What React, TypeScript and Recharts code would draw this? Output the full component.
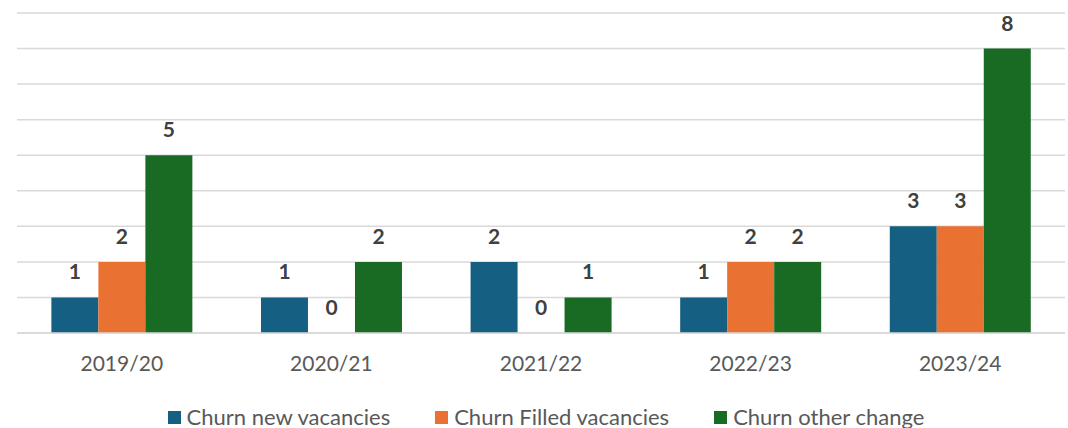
import { BarChart, Bar, XAxis, YAxis, CartesianGrid, Legend, LabelList } from "recharts";

const years = ["2019/20", "2020/21", "2021/22", "2022/23", "2023/24"];
const newVacancies = [1, 1, 2, 1, 3];
const filledVacancies = [2, 0, 0, 2, 3];
const otherChange = [5, 2, 1, 2, 8];
const yTicks = [0, 1, 2, 3, 4, 5, 6, 7, 8, 9];

const series = [
  { key: "newVac", name: "Churn new vacancies", color: "#156082" },
  { key: "filledVac", name: "Churn Filled vacancies", color: "#E97132" },
  { key: "other", name: "Churn other change", color: "#196B24" },
];

const data = years.map((year, i) => ({
  year,
  newVac: newVacancies[i],
  filledVac: filledVacancies[i],
  other: otherChange[i],
}));

const FONT = "Lato, 'Open Sans', sans-serif";

function ChartLegend() {
  return (
    <div
      style={{
        display: "flex",
        justifyContent: "center",
        alignItems: "center",
        height: 40,
        paddingLeft: 10,
        paddingTop: 18,
        boxSizing: "border-box",
        fontFamily: FONT,
        fontSize: 22,
        color: "#595959",
      }}
    >
      {series.map((s, i) => (
        <div
          key={s.key}
          style={{ display: "flex", alignItems: "center", marginLeft: i === 0 ? 0 : 45 }}
        >
          <span style={{ width: 13, height: 13, background: s.color, marginRight: 6, display: "inline-block" }} />
          <span style={{ lineHeight: "22px" }}>{s.name}</span>
        </div>
      ))}
    </div>
  );
}

export default function App() {
  return (
    <div style={{ position: "absolute", left: 0, top: 0, background: "#fff" }}>
      <BarChart
        width={1068}
        height={428}
        data={data}
        margin={{ top: 13, right: 3, left: 17, bottom: 0 }}
        barCategoryGap="16.4%"
        barGap={0}
      >
        <CartesianGrid vertical={false} stroke="#d9d9d9" strokeWidth={1.5} />
        <YAxis hide domain={[0, 9]} ticks={yTicks} />
        <XAxis
          dataKey="year"
          height={55}
          tickLine={false}
          axisLine={{ stroke: "#d9d9d9", strokeWidth: 1.5 }}
          tickSize={0}
          tickMargin={23}
          tick={{ fill: "#595959", fontSize: 21, fontFamily: FONT }}
        />
        <Legend verticalAlign="bottom" height={40} content={() => <ChartLegend />} />
        {series.map((s) => (
          <Bar
            key={s.key}
            dataKey={s.key}
            name={s.name}
            fill={s.color}
            minPointSize={0.01}
            isAnimationActive={false}
          >
            <LabelList
              dataKey={s.key}
              position="top"
              offset={18}
              fill="#404040"
              fontSize={21}
              fontWeight="bold"
              fontFamily={FONT}
            />
          </Bar>
        ))}
      </BarChart>
    </div>
  );
}
